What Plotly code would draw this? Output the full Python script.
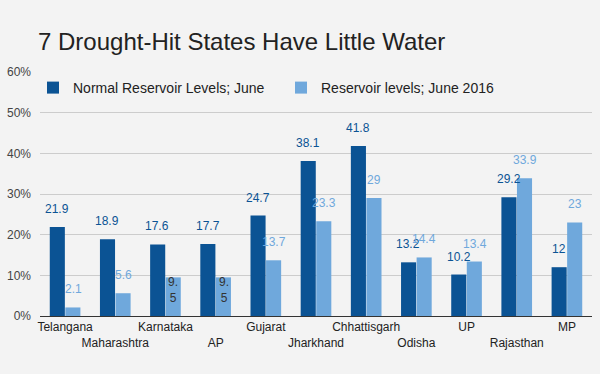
import plotly.graph_objects as go

states = ["Telangana", "Maharashtra", "Karnataka", "AP", "Gujarat", "Jharkhand",
          "Chhattisgarh", "Odisha", "UP", "Rajasthan", "MP"]
normal_june = [21.9, 18.9, 17.6, 17.7, 24.7, 38.1, 41.8, 13.2, 10.2, 29.2, 12]
june_2016 = [2.1, 5.6, 9.5, 9.5, 13.7, 23.3, 29, 14.4, 13.4, 33.9, 23]

tick_text = [s if i % 2 == 0 else "<br>" + s for i, s in enumerate(states)]
y_ticks = [0, 10, 20, 30, 40, 50, 60]
y_tick_text = [f"{t}%" for t in y_ticks]

DARK = "#0b5394"
LIGHT = "#6fa8dc"
FONT = "Liberation Sans, Arial, sans-serif"

fig = go.Figure()
fig.add_trace(go.Bar(name="Normal Reservoir Levels; June", x=states, y=normal_june,
                     marker_color=DARK, marker_line_width=0))
fig.add_trace(go.Bar(name="Reservoir levels; June 2016", x=states, y=june_2016,
                     marker_color=LIGHT, marker_line_width=0))

def fmt(v):
    return f"{v:g}"

wrapped = {"Karnataka", "AP"}
ann = []
for s, v in zip(states, normal_june):
    ann.append(dict(x=s, y=v, text=fmt(v), xref="x", yref="y", showarrow=False,
                    xshift=-8, yshift=9, yanchor="bottom",
                    font=dict(family=FONT, size=12, color=DARK)))
for s, v in zip(states, june_2016):
    if s in wrapped:
        t = fmt(v)
        ann.append(dict(x=s, y=v, text=t[:2] + "<br>" + t[2:], xref="x", yref="y",
                        showarrow=False, xshift=8, yshift=4, yanchor="top",
                        font=dict(family=FONT, size=12, color="#333333")))
    else:
        ann.append(dict(x=s, y=v, text=fmt(v), xref="x", yref="y", showarrow=False,
                        xshift=8, yshift=9, yanchor="bottom",
                        font=dict(family=FONT, size=12, color=LIGHT)))

fig.update_layout(
    width=600, height=374,
    paper_bgcolor="#f3f3f3", plot_bgcolor="#f3f3f3",
    margin=dict(l=40, r=8, t=72, b=58),
    barmode="group", bargap=0.38, bargroupgap=0.03,
    font=dict(family=FONT, size=12, color="#222222"),
    title=dict(text="7 Drought-Hit States Have Little Water", x=38 / 600, xref="container",
               xanchor="left", y=1 - 42 / 374, yref="container", yanchor="middle",
               pad=dict(t=0, b=0, l=0, r=0),
               font=dict(family=FONT, size=24, color="#222222")),
    legend=dict(orientation="h", x=0, xanchor="left",
                y=(316 - 88) / 244, yanchor="middle", indentation=-7,
                font=dict(family=FONT, size=14, color="#222222"),
                bgcolor="rgba(0,0,0,0)", entrywidth=210, entrywidthmode="pixels",
                itemsizing="constant"),
    annotations=ann,
    xaxis=dict(tickmode="array", tickvals=states, ticktext=tick_text, tickangle=0,
               tickfont=dict(family=FONT, size=12, color="#222222"),
               showgrid=False, showline=True, linecolor="#333333", linewidth=1,
               ticks=""),
    yaxis=dict(range=[0, 60], tickvals=y_ticks, ticktext=y_tick_text,
               tickfont=dict(family=FONT, size=12, color="#444444"),
               gridcolor="#cccccc", gridwidth=1, zeroline=False, ticks="",
               ticklabelstandoff=8),
)
fig.write_html("out.html", config={"displayModeBar": False},
               post_script="document.body.style.margin='0';document.body.style.background='#f3f3f3';")
